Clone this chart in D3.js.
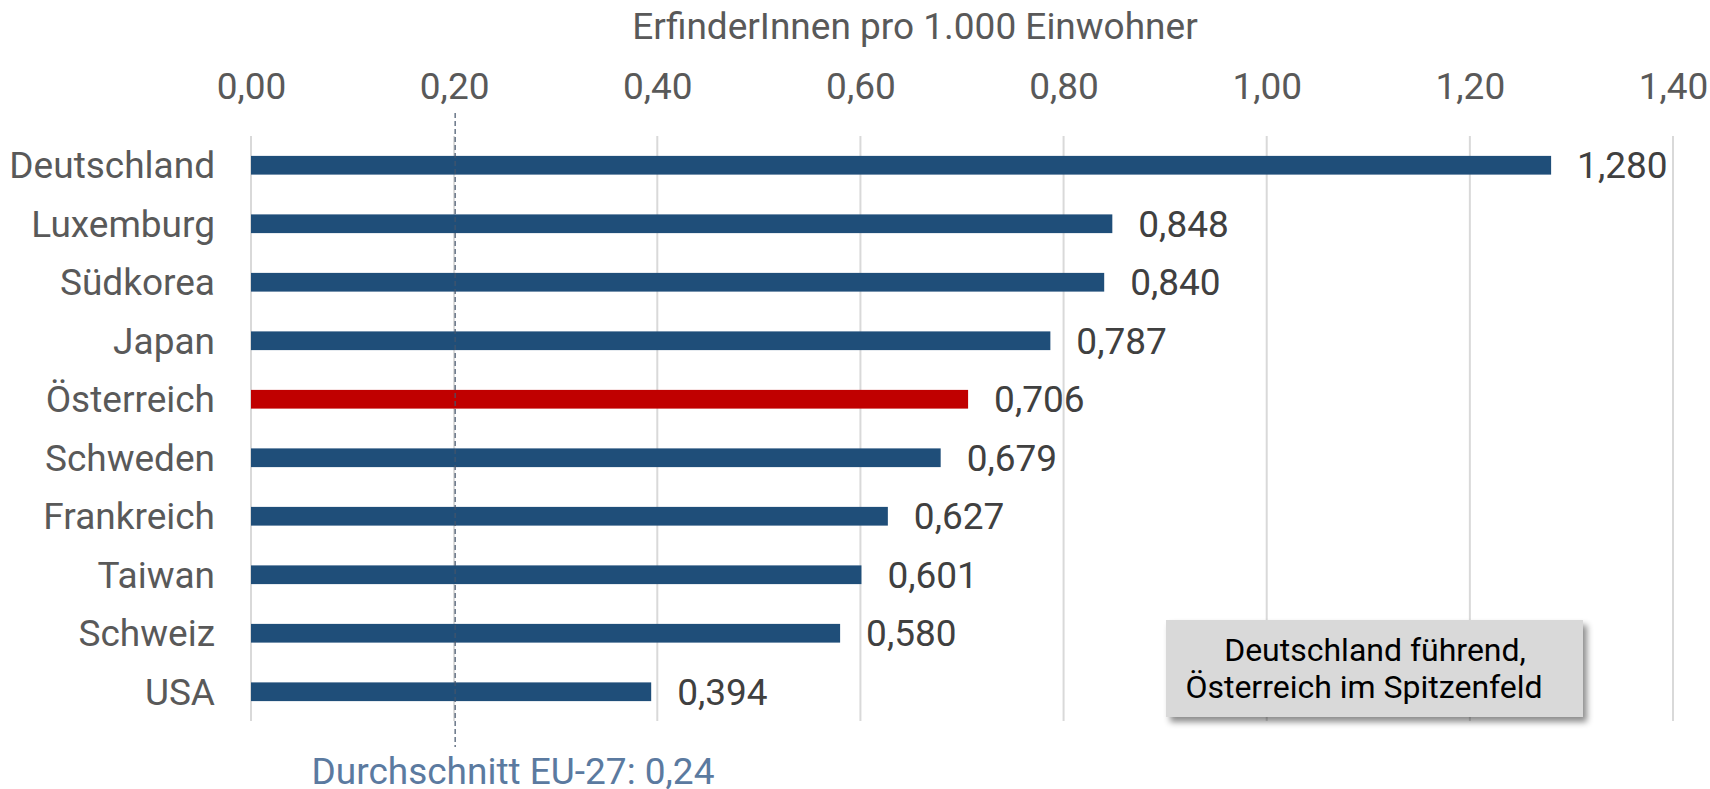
<!DOCTYPE html>
<html>
<head>
<meta charset="utf-8">
<script src="https://cdn.jsdelivr.net/npm/d3@7"></script>
<style>
  body { margin: 0; background: #fff; }
  svg { display: block; font-family: Roboto, sans-serif; }
</style>
</head>
<body>
<svg id="svg" width="1710" height="789"></svg>
<script>
// data
var countries = ["Deutschland", "Luxemburg", "Südkorea", "Japan", "Österreich", "Schweden", "Frankreich", "Taiwan", "Schweiz", "USA"];
var values = [1.280, 0.848, 0.840, 0.787, 0.706, 0.679, 0.627, 0.601, 0.580, 0.394];
var highlight = ["Österreich"];
var tickValues = [0, 0.2, 0.4, 0.6, 0.8, 1.0, 1.2, 1.4];
var axisTitle = "ErfinderInnen pro 1.000 Einwohner";
var euAvgLabel = "Durchschnitt EU-27: 0,24";
var euLinePos = [0.20];
var noteLines = ["Deutschland führend,", "Österreich im Spitzenfeld"];

var chartLeft = 251, chartRight = 1673, chartTop = 136, chartBottom = 721;
var fontSize = 37;

var svg = d3.select("#svg");
var defs = svg.append("defs");
var shadow = defs.append("filter").attr("id", "shadow")
	.attr("x", "-10%").attr("y", "-10%").attr("width", "130%").attr("height", "140%");
shadow.append("feDropShadow")
	.attr("dx", 4).attr("dy", 5).attr("stdDeviation", 3)
	.attr("flood-color", "#000").attr("flood-opacity", 0.45);

// scales
var x = d3.scaleLinear().domain([0, 1.4]).range([chartLeft, chartRight]);
var y = d3.scaleBand().domain(countries).range([chartTop, chartBottom]).paddingInner(0.68).paddingOuter(0.34);

var fmt = function(d, digits) { return d3.format("." + digits + "f")(d).replace(".", ","); };

// gridlines
svg.append("g").selectAll("line").data(tickValues).enter()
	.append("line")
	.attr("x1", function(d){return x(d);})
	.attr("x2", function(d){return x(d);})
	.attr("y1", chartTop)
	.attr("y2", chartBottom)
	.attr("stroke", "#d9d9d9")
	.attr("stroke-width", 2);

// top axis
var axis = d3.axisTop(x).tickValues(tickValues).tickSize(0).tickPadding(0)
	.tickFormat(function(d){return fmt(d, 2);});
var axisG = svg.append("g").attr("transform", "translate(0,99)").call(axis);
axisG.select(".domain").remove();
axisG.selectAll("text")
	.attr("dy", 0)
	.attr("font-family", "Roboto, sans-serif")
	.attr("font-size", fontSize)
	.attr("fill", "#595959");

svg.append("text")
	.attr("x", 915)
	.attr("y", 39)
	.attr("text-anchor", "middle")
	.attr("font-size", fontSize)
	.attr("fill", "#595959")
	.text(axisTitle);

// category labels
svg.append("g").selectAll("text").data(countries).enter()
	.append("text")
	.attr("x", 215)
	.attr("y", function(d){return y(d) + y.bandwidth()/2;})
	.attr("dy", "0.35em")
	.attr("text-anchor", "end")
	.attr("font-size", fontSize)
	.attr("fill", "#595959")
	.text(function(d){return d;});

// bars
svg.append("g").selectAll("rect").data(countries).enter()
	.append("rect")
	.attr("x", x(0))
	.attr("y", function(d){return y(d);})
	.attr("width", function(d, i){return x(values[i]) - x(0);})
	.attr("height", y.bandwidth())
	.attr("fill", function(d){return highlight.indexOf(d) >= 0 ? "#c00000" : "#1f4e79";});

// value labels
svg.append("g").selectAll("text").data(countries).enter()
	.append("text")
	.attr("x", function(d, i){return x(values[i]) + 26;})
	.attr("y", function(d){return y(d) + y.bandwidth()/2;})
	.attr("dy", "0.35em")
	.attr("font-size", fontSize)
	.attr("fill", "#404040")
	.text(function(d, i){return fmt(values[i], 3);});

// EU average line
svg.append("g").selectAll("line").data(euLinePos).enter()
	.append("line")
	.attr("x1", function(d){return x(d) + 1;})
	.attr("x2", function(d){return x(d) + 1;})
	.attr("y1", 113)
	.attr("y2", 747)
	.attr("stroke", "#44546a")
	.attr("stroke-width", 1.2)
	.attr("stroke-dasharray", "5,3");

svg.append("text")
	.attr("x", 513)
	.attr("y", 784)
	.attr("text-anchor", "middle")
	.attr("font-size", 37)
	.attr("fill", "#5b7aa0")
	.text(euAvgLabel);

// note box
var note = svg.append("g");
note.append("rect")
	.attr("x", 1166)
	.attr("y", 620)
	.attr("width", 417)
	.attr("height", 97)
	.attr("fill", "#d9d9d9")
	.attr("filter", "url(#shadow)");
note.selectAll("text").data(noteLines).enter()
	.append("text")
	.attr("x", function(d, i){return i == 0 ? 1375 : 1364;})
	.attr("y", function(d, i){return 661 + i*37;})
	.attr("text-anchor", "middle")
	.attr("font-size", 32)
	.attr("fill", "#000")
	.text(function(d){return d;});
</script>
</body>
</html>
